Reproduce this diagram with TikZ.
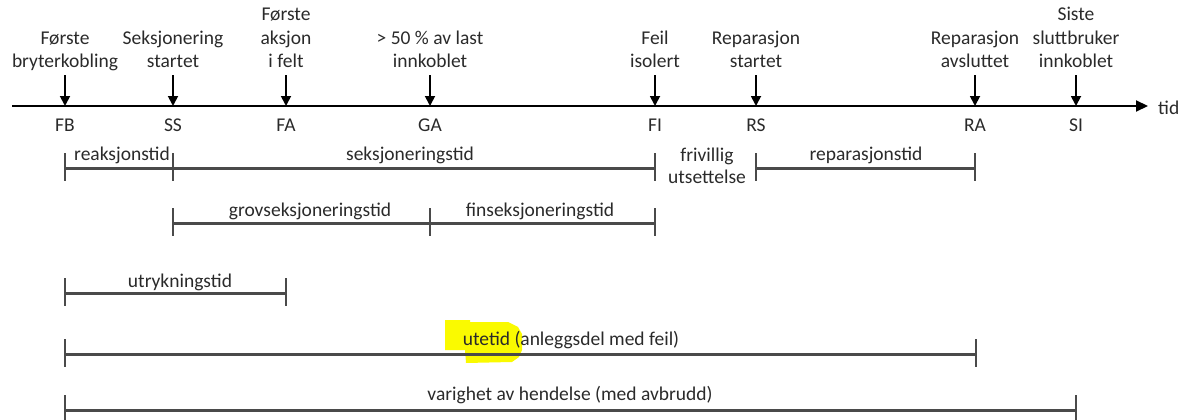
\documentclass[tikz,border=0pt]{standalone}
\usepackage{fontspec}
\setmainfont{Carlito}
\usetikzlibrary{arrows.meta}
\definecolor{txt}{HTML}{2A2A2A}
\definecolor{spancol}{HTML}{4A4A4A}
\definecolor{hilite}{HTML}{FAFA00}
\tikzset{
  lbl/.style={font=\fontsize{19.5}{23.5}\selectfont, text=txt, inner sep=0pt, align=center, text depth=0pt},
  toplbl/.style={lbl, anchor=south},
  baselbl/.style={lbl, anchor=base},
  evarrow/.style={draw=black, line width=1.8pt, -{Triangle[width=10pt,length=10pt]}},
  axisline/.style={draw=black, line width=2pt, -{Triangle[width=11pt,length=12pt]}},
  span/.style={draw=spancol, line width=3pt},
  tickmark/.style={draw=spancol, line width=2.5pt}
}
\newcommand{\tickat}[1]{\draw[tickmark] ([yshift=15pt]#1) -- ([yshift=-13pt]#1);}
\begin{document}
\begin{tikzpicture}[x=1pt,y=-1pt]
\useasboundingbox (0,0) rectangle (1180,420);
% highlight behind "utetid"
\fill[hilite] (445,320) -- (470,320) -- (470,322) -- (508,322) -- (518,327) -- (522,334) -- (522,350) -- (519,357) -- (512,362) -- (466,363) -- (465,350) -- (445,350) -- cycle;
% axis
\coordinate (A0) at (12,106);
\coordinate (A1) at (1148,106);
\draw[axisline] (A0) -- (A1);
\node[baselbl, anchor=base west] (tid) at (1158,114) {tid};
% events
\foreach \n/\x in {FB/65,SS/173,FA/286,GA/430,FI/655,RS/756,RA/975,SI/1076}{
  \coordinate (\n) at (\x,106);
  \coordinate (\n top) at (\x,75);
  \draw[evarrow] (\n top) -- (\n);
  \node[baselbl] (\n lbl) at (\x,131) {\n};
}
\node[toplbl] (tFB) at (65,68) {Første\\bryterkobling};
\node[toplbl] (tSS) at (173,68) {Seksjonering\\startet};
\node[toplbl] (tFA) at (286,68) {Første\\aksjon\\i felt};
\node[toplbl] (tGA) at (430,68) {> 50 \% av last\\innkoblet};
\node[toplbl] (tFI) at (655,68) {Feil\\isolert};
\node[toplbl] (tRS) at (756,68) {Reparasjon\\startet};
\node[toplbl] (tRA) at (975,68) {Reparasjon\\avsluttet};
\node[toplbl] (tSI) at (1076,68) {Siste\\sluttbruker\\innkoblet};
% row 1
\coordinate (r1FB) at (65,168);
\coordinate (r1SS) at (173,168);
\coordinate (r1FI) at (655,168);
\coordinate (r1RS) at (756,168);
\coordinate (r1RA) at (975,168);
\draw[span] (r1FB) -- (r1SS);
\draw[span] (r1SS) -- (r1FI);
\draw[span] (r1RS) -- (r1RA);
\tickat{r1FB}\tickat{r1SS}\tickat{r1FI}\tickat{r1RS}\tickat{r1RA}
\node[baselbl] (reak) at (122,160) {reaksjonstid};
\node[baselbl] (seks) at (410,160) {seksjoneringstid};
\node[baselbl] (friv) at (707,161) {frivillig};
\node[baselbl] (utset) at (707,183) {utsettelse};
\node[baselbl] (rep) at (866,160) {reparasjonstid};
% row 2
\coordinate (r2SS) at (173,223);
\coordinate (r2GA) at (430,223);
\coordinate (r2FI) at (655,223);
\draw[span] (r2SS) -- (r2GA);
\draw[span] (r2GA) -- (r2FI);
\tickat{r2SS}\tickat{r2GA}\tickat{r2FI}
\node[baselbl] (grov) at (310,216) {grovseksjoneringstid};
\node[baselbl] (fin) at (540,216) {finseksjoneringstid};
% row 3
\coordinate (r3FB) at (65,293);
\coordinate (r3FA) at (286,293);
\draw[span] (r3FB) -- (r3FA);
\tickat{r3FB}\tickat{r3FA}
\node[baselbl] (utr) at (180,287) {utrykningstid};
% row 4
\coordinate (r4FB) at (65,354);
\coordinate (r4RA) at (976,354);
\draw[span] (r4FB) -- (r4RA);
\tickat{r4FB}\tickat{r4RA}
\node[baselbl] (ute) at (571,345) {utetid (anleggsdel med feil)};
% row 5
\coordinate (r5FB) at (65,410);
\coordinate (r5SI) at (1076,410);
\draw[span] (r5FB) -- (r5SI);
\tickat{r5FB}\tickat{r5SI}
\node[baselbl] (var) at (570,400) {varighet av hendelse (med avbrudd)};
\end{tikzpicture}
\end{document}
